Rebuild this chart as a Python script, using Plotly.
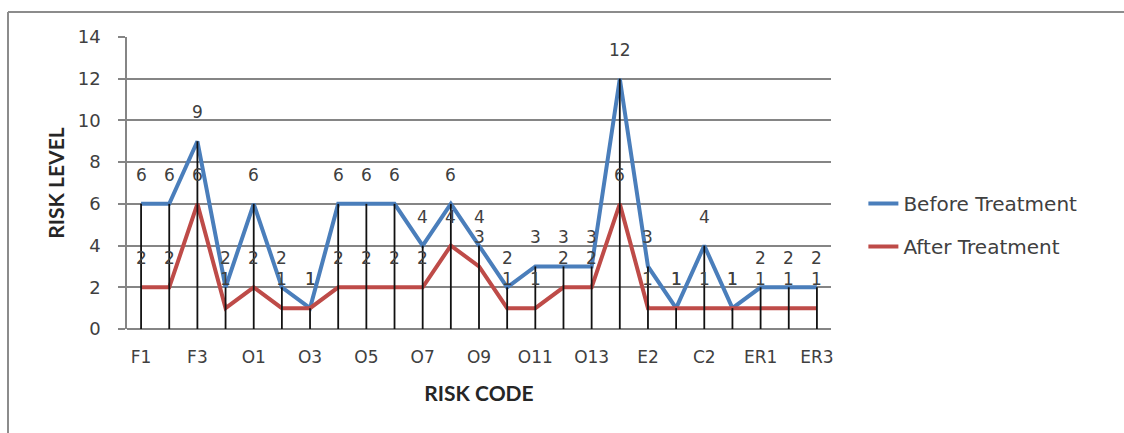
import plotly.graph_objects as go

categories = ["F1", "F2", "F3", "F4", "O1", "O2", "O3", "O4", "O5", "O6", "O7", "O8", "O9",
              "O10", "O11", "O12", "O13", "E1", "E2", "C1", "C2", "C3", "ER1", "ER2", "ER3"]
before = [6, 6, 9, 2, 6, 2, 1, 6, 6, 6, 4, 6, 4, 2, 3, 3, 3, 12, 3, 1, 4, 1, 2, 2, 2]
after = [2, 2, 6, 1, 2, 1, 1, 2, 2, 2, 2, 4, 3, 1, 1, 2, 2, 6, 1, 1, 1, 1, 1, 1, 1]
tick_labels = categories[::2]

FONT = "'DejaVu Sans', sans-serif"
TITLE_FONT = "Lato, 'Open Sans', sans-serif"
BLUE = "#4A7EBB"
RED = "#BE4B48"
GRID = "#858585"
TXT = "#404040"

fig = go.Figure()

fig.add_trace(go.Scatter(x=categories, y=before, mode="lines", name="Before Treatment",
                         line=dict(color=BLUE, width=4), legendgroup="b"))
fig.add_trace(go.Scatter(x=categories, y=after, mode="lines", name="After Treatment",
                         line=dict(color=RED, width=4), legendgroup="a"))

# drop lines from the higher series down to the axis
dx, dy = [], []
for c, b, a in zip(categories, before, after):
    dx += [c, c, None]
    dy += [0, max(b, a), None]
fig.add_trace(go.Scatter(x=dx, y=dy, mode="lines", showlegend=False, legendgroup="d",
                         line=dict(color="#111111", width=1.8), hoverinfo="skip"))

annotations = []
for c, v in zip(categories, after):
    annotations.append(dict(x=c, y=v, text=str(v), showarrow=False, yshift=29,
                            font=dict(family=FONT, size=17, color=TXT)))
for c, v in zip(categories, before):
    annotations.append(dict(x=c, y=v, text=str(v), showarrow=False, yshift=29,
                            font=dict(family=FONT, size=17, color=TXT)))

fig.update_layout(
    width=1124, height=433,
    margin=dict(l=127, r=293, t=37, b=104),
    paper_bgcolor="white", plot_bgcolor="white",
    font=dict(family=FONT, size=17, color=TXT),
    annotations=annotations,
    showlegend=True,
    legend=dict(x=1.046, y=0.356, xanchor="left", yanchor="middle",
                font=dict(family=FONT, size=20, color=TXT),
                tracegroupgap=14, traceorder="grouped", itemwidth=30,
                bgcolor="rgba(0,0,0,0)"),
    xaxis=dict(
        type="category", categoryorder="array", categoryarray=categories,
        range=[-0.5, len(categories) - 0.5],
        tickmode="array", tickvals=tick_labels, ticktext=tick_labels,
        ticks="", showgrid=False, showline=False, zeroline=False,
        tickfont=dict(family=FONT, size=17, color=TXT),
        ticklabelstandoff=16,
        title=dict(text="<b>RISK CODE</b>", font=dict(family=TITLE_FONT, size=21, color="#262626"),
                   standoff=20),
    ),
    yaxis=dict(
        range=[0, 14], dtick=2, tick0=0,
        showgrid=True, gridcolor=GRID, gridwidth=1.5,
        showline=True, linecolor=GRID, linewidth=1.5,
        ticks="outside", ticklen=7, tickcolor=GRID, tickwidth=1.5,
        zeroline=True, zerolinecolor=GRID, zerolinewidth=1.5,
        tickfont=dict(family=FONT, size=18, color=TXT),
        ticklabelstandoff=14,
        title=dict(text="<b>RISK LEVEL</b>", font=dict(family=TITLE_FONT, size=21, color="#262626"),
                   standoff=7),
    ),
)

# outer chart border (top and left edges visible)
pw = 1124 - 127 - 293
ph = 433 - 37 - 104
def px_to_paper_x(px):
    return (px - 127) / pw
def px_to_paper_y(py):
    return (433 - 104 - py) / ph

fig.add_shape(type="line", xref="paper", yref="paper",
              x0=px_to_paper_x(8), x1=px_to_paper_x(1124), y0=px_to_paper_y(12), y1=px_to_paper_y(12),
              line=dict(color="#8C8C8C", width=2))
fig.add_shape(type="line", xref="paper", yref="paper",
              x0=px_to_paper_x(8), x1=px_to_paper_x(8), y0=px_to_paper_y(12), y1=px_to_paper_y(433),
              line=dict(color="#8C8C8C", width=2))

fig.write_html("out.html", config={"displayModeBar": False},
               post_script="document.body.style.margin='0';")
